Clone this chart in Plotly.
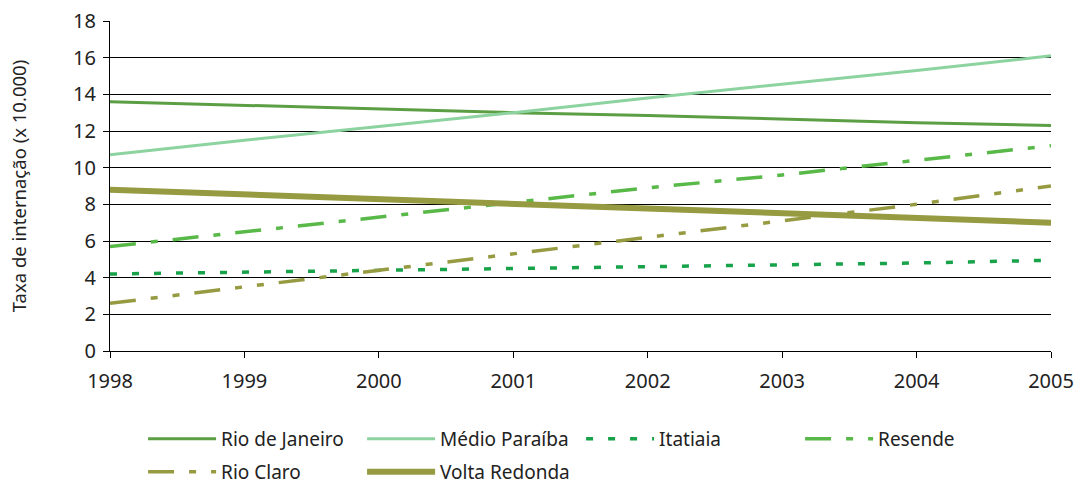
import plotly.graph_objects as go

years = [1998, 1999, 2000, 2001, 2002, 2003, 2004, 2005]
rio_de_janeiro = [13.6, 13.4, 13.2, 13.0, 12.85, 12.65, 12.45, 12.3]
medio_paraiba = [10.7, 11.5, 12.25, 13.0, 13.8, 14.55, 15.3, 16.1]
itatiaia = [4.2, 4.3, 4.4, 4.5, 4.6, 4.7, 4.8, 4.95]
resende = [5.7, 6.5, 7.3, 8.1, 8.9, 9.6, 10.4, 11.2]
rio_claro = [2.6, 3.5, 4.4, 5.3, 6.2, 7.1, 8.0, 9.0]
volta_redonda = [8.8, 8.55, 8.3, 8.05, 7.8, 7.55, 7.25, 7.0]

series = [
    ("Rio de Janeiro", rio_de_janeiro, "#5c9e44", 3, "solid", "legend"),
    ("Médio Paraíba", medio_paraiba, "#8dd3a0", 3, "solid", "legend"),
    ("Itatiaia", itatiaia, "#18a34a", 3.5, "7px,15px", "legend"),
    ("Resende", resende, "#58b848", 3.5, "26px,15px,7px,15px", "legend"),
    ("Rio Claro", rio_claro, "#969a40", 3.5, "26px,15px,7px,15px,7px,15px", "legend2"),
    ("Volta Redonda", volta_redonda, "#969a40", 6, "solid", "legend2"),
]

fig = go.Figure()
for name, vals, color, w, dash, lg in series:
    fig.add_trace(go.Scatter(x=years, y=vals, name=name, mode="lines", legend=lg,
                             line=dict(color=color, width=w, dash=dash)))

font = "Noto Sans"
legend_common = dict(orientation="h", xref="container", yref="container",
                     xanchor="left", yanchor="middle",
                     entrywidth=136, entrywidthmode="pixels",
                     font=dict(size=19, color="#222222"),
                     traceorder="normal", itemwidth=68, bgcolor="rgba(0,0,0,0)")
fig.update_layout(
    width=1084, height=485,
    margin=dict(l=110, r=33, t=21, b=134),
    paper_bgcolor="white", plot_bgcolor="white",
    font=dict(family=font, size=20, color="#222222"),
    showlegend=True,
    legend=dict(x=0.132, y=1 - 439 / 485, **legend_common),
    legend2=dict(x=0.132, y=1 - 472 / 485, **legend_common),
    xaxis=dict(range=[1998, 2005], tickmode="array", tickvals=years,
               ticktext=[str(y) for y in years], automargin=False,
               showgrid=False, showline=True, linecolor="black", linewidth=1,
               ticks="outside", ticklen=6, tickcolor="black", ticklabelstandoff=6,
               tickfont=dict(size=20), zeroline=False, fixedrange=True),
    yaxis=dict(range=[0, 18], dtick=2, showgrid=True, gridcolor="black",
               gridwidth=1, showline=True, linecolor="black", linewidth=1,
               ticks="outside", ticklen=6, tickcolor="black", automargin=False,
               ticklabelstandoff=3, fixedrange=True,
               tickfont=dict(size=20), zeroline=False,
               title=dict(text="Taxa de internação (x 10.000)", font=dict(size=18.5), standoff=41)),
)

fig.write_html("out.html", post_script="document.body.style.margin='0';",
               config={"displayModeBar": False})
